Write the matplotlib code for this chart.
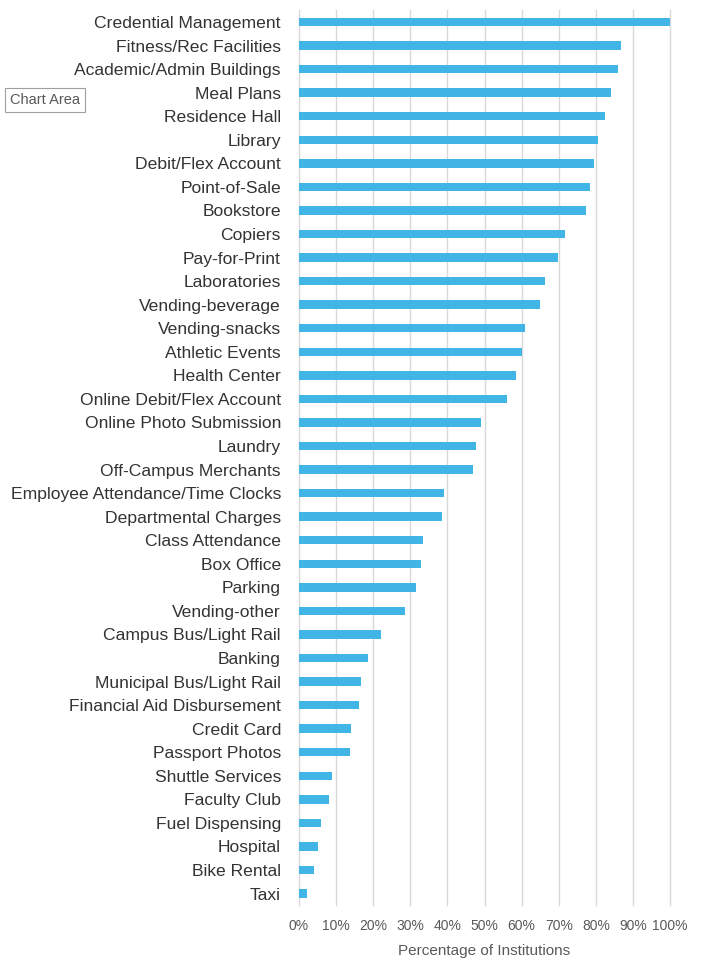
import numpy as np
import matplotlib.pyplot as plt

plt.rcParams['font.family'] = ['Liberation Sans', 'DejaVu Sans']

# Kategorie i wartosci (procent instytucji), od gory do dolu
categories = [
    'Credential Management', 'Fitness/Rec Facilities', 'Academic/Admin Buildings',
    'Meal Plans', 'Residence Hall', 'Library', 'Debit/Flex Account',
    'Point-of-Sale', 'Bookstore', 'Copiers', 'Pay-for-Print', 'Laboratories',
    'Vending-beverage', 'Vending-snacks', 'Athletic Events', 'Health Center',
    'Online Debit/Flex Account', 'Online Photo Submission', 'Laundry',
    'Off-Campus Merchants', 'Employee Attendance/Time Clocks',
    'Departmental Charges', 'Class Attendance', 'Box Office', 'Parking',
    'Vending-other', 'Campus Bus/Light Rail', 'Banking',
    'Municipal Bus/Light Rail', 'Financial Aid Disbursement', 'Credit Card',
    'Passport Photos', 'Shuttle Services', 'Faculty Club', 'Fuel Dispensing',
    'Hospital', 'Bike Rental', 'Taxi',
]
values = [
    100.0, 86.7, 86.0, 84.0, 82.4, 80.6, 79.4, 78.4, 77.4, 71.7, 69.8, 66.3,
    65.0, 60.9, 60.1, 58.5, 56.1, 49.1, 47.8, 47.0, 39.2, 38.5, 33.5, 32.8,
    31.4, 28.5, 22.0, 18.6, 16.6, 16.1, 14.0, 13.7, 8.9, 8.1, 5.9, 5.1, 4.0, 2.2,
]
ticks = list(range(0, 101, 10))

fig = plt.figure(figsize=(7.02, 9.72), dpi=100)
ax = fig.add_axes([0.426, 0.0686, 0.5285, 0.9209])

y = np.arange(len(categories))
ax.barh(y, values, height=0.36, color='#41B6E6', zorder=3)

ax.set_ylim(len(categories) - 0.5, -0.5)
ax.set_xlim(0, 100)
ax.set_yticks(y)
ax.set_yticklabels(categories, fontsize=12.6, color='#333333')
ax.set_xticks(ticks)
ax.set_xticklabels([f'{t}%' for t in ticks], fontsize=10, color='#595959')
ax.tick_params(axis='y', length=0, pad=13)
ax.tick_params(axis='x', length=0, pad=10)

ax.grid(axis='x', color='#D9D9D9', linewidth=1, zorder=0)
for line in ax.get_xgridlines():
    line.set_clip_on(False)
for s in ax.spines.values():
    s.set_visible(False)

ax.set_xlabel('Percentage of Institutions', fontsize=11, color='#595959', labelpad=8)

# dymek "Chart Area" z Excela
fig.text(0.0145, 0.8975, 'Chart Area', fontsize=10.5, color='#595959', va='center', ha='left',
         bbox=dict(boxstyle='square,pad=0.35', facecolor='white', edgecolor='#A0A0A0', linewidth=0.8))

plt.savefig('out.png', dpi=100)
